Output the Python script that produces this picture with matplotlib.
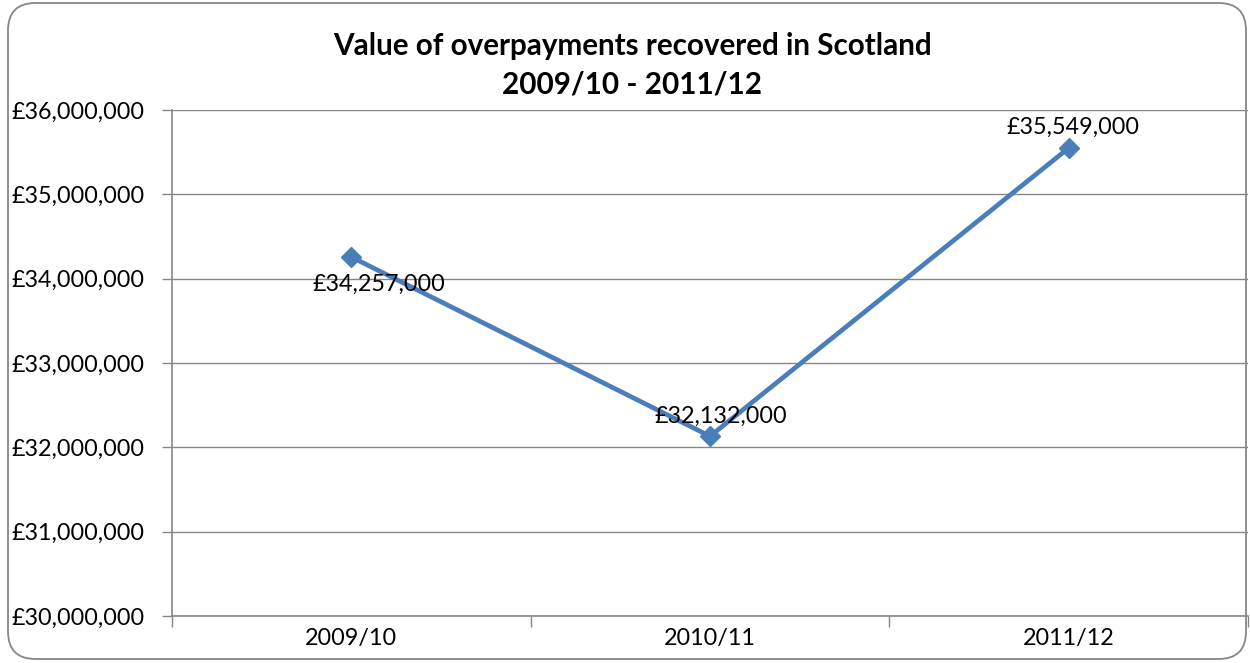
import matplotlib.pyplot as plt
from matplotlib.patches import FancyBboxPatch
from matplotlib.ticker import FuncFormatter

years = ['2009/10', '2010/11', '2011/12']
values = [34257000, 32132000, 35549000]
# label offsets in pixels (dx, dy) from each point
label_offsets = [(28, -27), (11, 20), (4, 21)]

plt.rcParams['font.family'] = ['Lato', 'DejaVu Sans']

fig = plt.figure(figsize=(12.5, 6.63), dpi=100)
ax = fig.add_axes([172 / 1250, 1 - 616 / 663, (1248 - 172) / 1250, (616 - 110) / 663])

# rounded frame around the chart
frame = FancyBboxPatch((8 / 1250, 4 / 663), 1238 / 1250, 656 / 663,
                       boxstyle='round,pad=0,rounding_size=0.022',
                       transform=fig.transFigure, fill=False,
                       edgecolor='#868686', linewidth=1.3, mutation_aspect=1250 / 663)
fig.patches.append(frame)

x = list(range(len(years)))
ax.plot(x, values, color='#4A7EBB', linewidth=3.4, marker='D', markersize=10,
        zorder=3, clip_on=False)

for xi, v, (dx, dy) in zip(x, values, label_offsets):
    ax.annotate('£{:,}'.format(v), (xi, v), xytext=(dx * 0.72, dy * 0.72),
                textcoords='offset points', ha='center', va='center', fontsize=16.8)

ax.set_xlim(-0.5, 2.5)
ax.set_ylim(30000000, 36000000)
ax.set_yticks(range(30000000, 36000001, 1000000))
ax.yaxis.set_major_formatter(FuncFormatter(lambda v, p: '£{:,.0f}'.format(v)))
ax.set_xticks([-0.5, 0.5, 1.5, 2.5])
ax.set_xticklabels([])
ax.set_xticks(x, minor=True)
ax.set_xticklabels(years, minor=True)
ax.tick_params(axis='x', which='minor', length=0, pad=9, labelsize=16.8)
ax.tick_params(axis='x', which='major', length=8, color='#868686', width=1)
ax.tick_params(axis='y', length=7, color='#868686', width=1, labelsize=16.8, pad=13)

ax.grid(axis='y', color='#868686', linewidth=1)
ax.set_axisbelow(True)
for s in ['top', 'right']:
    ax.spines[s].set_visible(False)
for s in ['left', 'bottom']:
    ax.spines[s].set_color('#868686')
    ax.spines[s].set_linewidth(1.2)

fig.text(632 / 1250, 1 - 65 / 663, 'Value of overpayments recovered in Scotland\n2009/10 - 2011/12',
         ha='center', va='center', fontsize=21.3, fontweight='bold', linespacing=1.45)

fig.savefig('out.png', dpi=100)
